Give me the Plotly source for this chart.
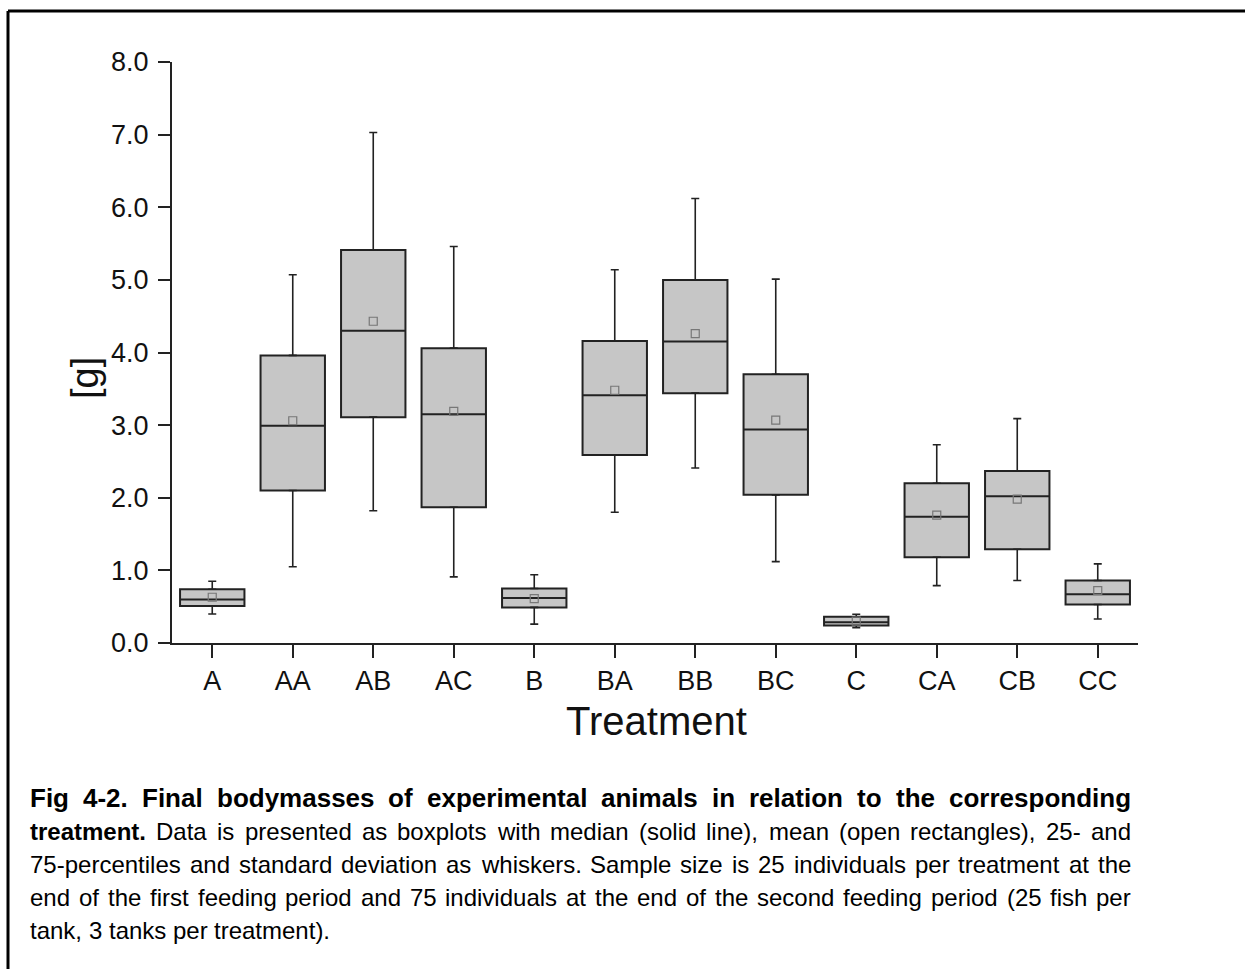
import plotly.graph_objects as go

# values (g)
treatments = ["A", "AA", "AB", "AC", "B", "BA", "BB", "BC", "C", "CA", "CB", "CC"]
q1 = [0.51, 2.10, 3.11, 1.87, 0.49, 2.59, 3.44, 2.04, 0.24, 1.18, 1.29, 0.53]
median = [0.60, 2.99, 4.30, 3.15, 0.62, 3.41, 4.15, 2.94, 0.285, 1.74, 2.02, 0.67]
q3 = [0.74, 3.96, 5.41, 4.06, 0.75, 4.16, 5.00, 3.70, 0.36, 2.20, 2.37, 0.86]
mean = [0.63, 3.06, 4.43, 3.19, 0.61, 3.48, 4.26, 3.07, 0.30, 1.76, 1.98, 0.72]
whisker_low = [0.40, 1.05, 1.82, 0.91, 0.26, 1.80, 2.41, 1.12, 0.21, 0.79, 0.86, 0.33]
whisker_high = [0.85, 5.07, 7.03, 5.46, 0.94, 5.14, 6.12, 5.01, 0.395, 2.73, 3.09, 1.09]

y_ticks = [0, 1, 2, 3, 4, 5, 6, 7, 8]

caption = [
    [("Fig 4-2. Final bodymasses of experimental animals in relation to the corresponding", True)],
    [("treatment.", True),
     ("Data is presented as boxplots with median (solid line), mean (open rectangles), 25- and", False)],
    [("75-percentiles and standard deviation as whiskers. Sample size is 25 individuals per treatment at the", False)],
    [("end of the first feeding period and 75 individuals at the end of the second feeding period (25 fish per", False)],
    [("tank, 3 tanks per treatment).", False)],
]

FONT = "Liberation Sans, Arial, Helvetica, sans-serif"
W, H = 1245, 969
ML, MR, MT, MB = 172, 107, 62, 326
INK = "#222222"


def px_x(px):
    return (px - ML) / (W - ML - MR)


def px_y(py):
    return (H - MB - py) / (H - MT - MB)


# Arial / Liberation Sans advance widths (1/1000 em), enough for the caption
_reg = dict(zip("abcdefghijklmnopqrstuvwxyz",
                [556, 556, 500, 556, 556, 278, 556, 556, 222, 222, 500, 222, 833,
                 556, 556, 556, 556, 333, 500, 278, 556, 500, 722, 500, 500, 500]))
_reg.update({" ": 278, ".": 278, ",": 278, "-": 333, "(": 333, ")": 333,
             "D": 722, "S": 667, "F": 611})
_bold = dict(zip("abcdefghijklmnopqrstuvwxyz",
                 [556, 611, 556, 611, 556, 333, 611, 611, 278, 278, 556, 278, 889,
                  611, 611, 611, 611, 389, 556, 333, 611, 556, 778, 556, 556, 500]))
_bold.update({" ": 278, ".": 278, ",": 278, "-": 333, "(": 333, ")": 333, "F": 611})


def text_width(s, bold, size):
    table = _bold if bold else _reg
    return sum(table.get(c, 556) for c in s) * size / 1000.0


fig = go.Figure()

# whiskers as error bars with caps
fig.add_trace(go.Scatter(
    x=treatments, y=q3, mode="markers", marker=dict(size=1, opacity=0),
    error_y=dict(type="data", symmetric=False,
                 array=[h - t for h, t in zip(whisker_high, q3)],
                 arrayminus=[0] * len(q3), color=INK, thickness=1.6, width=4),
    hoverinfo="skip", showlegend=False))
fig.add_trace(go.Scatter(
    x=treatments, y=q1, mode="markers", marker=dict(size=1, opacity=0),
    error_y=dict(type="data", symmetric=False,
                 array=[0] * len(q1),
                 arrayminus=[b - l for b, l in zip(q1, whisker_low)],
                 color=INK, thickness=1.6, width=4),
    hoverinfo="skip", showlegend=False))

fig.add_trace(go.Box(
    x=treatments, q1=q1, median=median, q3=q3,
    lowerfence=q1, upperfence=q3,
    fillcolor="#c6c6c6", line=dict(color=INK, width=2),
    whiskerwidth=0, width=0.8, boxpoints=False, showlegend=False))

fig.add_trace(go.Scatter(
    x=treatments, y=mean, mode="markers",
    marker=dict(symbol="square-open", size=8, color="#777777", line=dict(width=1.2)),
    showlegend=False))

annotations = [
    dict(text="Treatment", x=px_x(656), y=px_y(721), xref="paper", yref="paper",
         showarrow=False, font=dict(family=FONT, size=40, color="#111111"),
         xanchor="center", yanchor="middle"),
    dict(text="[g]", x=px_x(85), y=px_y(378), xref="paper", yref="paper",
         showarrow=False, textangle=-90, font=dict(family=FONT, size=38, color="#111111"),
         xanchor="center", yanchor="middle"),
]

# justified caption, one annotation per word
cap_left, cap_right = 29, 1130
line_size = [26, 24, 24, 24, 24]
line_y = [798, 831, 864, 897, 930]
for i, line in enumerate(caption):
    size = line_size[i]
    words = [(w, b) for part, b in line for w in part.split(" ")]
    widths = [text_width(w, b, size) for w, b in words]
    if i == len(caption) - 1:
        gap = text_width(" ", False, size)
    else:
        gap = (cap_right - cap_left - sum(widths)) / (len(words) - 1)
    x = cap_left
    for (w, b), wd in zip(words, widths):
        annotations.append(dict(
            text="<b>%s</b>" % w if b else w, x=px_x(x), y=px_y(line_y[i]),
            xref="paper", yref="paper", showarrow=False, borderpad=0,
            font=dict(family=FONT, size=size, color="#000000"),
            xanchor="left", yanchor="middle"))
        x += wd + gap

# frame round the figure (top and left edges are visible)
shapes = [
    dict(type="line", xref="paper", yref="paper", x0=px_x(8), x1=px_x(W + 5),
         y0=px_y(11), y1=px_y(11), line=dict(color="#000000", width=3)),
    dict(type="line", xref="paper", yref="paper", x0=px_x(8), x1=px_x(8),
         y0=px_y(11), y1=px_y(H + 5), line=dict(color="#000000", width=3)),
]

axis_common = dict(showline=True, linecolor=INK, linewidth=2, ticks="outside",
                   tickwidth=2, tickcolor=INK, showgrid=False, zeroline=False,
                   tickfont=dict(family=FONT, size=27, color="#111111"))

fig.update_layout(
    width=W, height=H,
    margin=dict(l=ML, r=MR, t=MT, b=MB),
    paper_bgcolor="white", plot_bgcolor="white",
    font=dict(family=FONT),
    xaxis=dict(type="category", range=[-0.5, 11.5], ticklen=13, **axis_common),
    yaxis=dict(range=[0, 8], tickvals=y_ticks, tickformat=".1f", ticklen=12,
               ticklabelstandoff=4, **axis_common),
    annotations=annotations, shapes=shapes,
)

# drop the default page margin so the figure sits at the window origin
fig.write_html("out.html", config={"displayModeBar": False},
               post_script="document.body.style.margin='0';"
                           "document.body.style.overflow='hidden';")
